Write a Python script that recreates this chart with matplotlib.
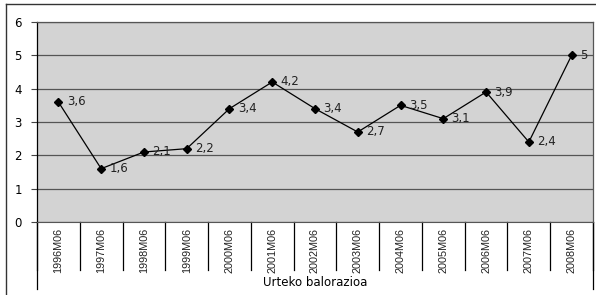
import numpy as np
import matplotlib.pyplot as plt
from matplotlib.lines import Line2D

years = ["1996M06", "1997M06", "1998M06", "1999M06", "2000M06", "2001M06", "2002M06",
         "2003M06", "2004M06", "2005M06", "2006M06", "2007M06", "2008M06"]
values = [3.6, 1.6, 2.1, 2.2, 3.4, 4.2, 3.4, 2.7, 3.5, 3.1, 3.9, 2.4, 5.0]
xlabel = "Urteko balorazioa"

W, H = 596, 295
fig = plt.figure(figsize=(W / 100, H / 100), dpi=100)

# plot area in pixels
left, top, right, bottom = 37, 22, 593, 222
ax = fig.add_axes([left / W, 1 - bottom / H, (right - left) / W, (bottom - top) / H])
ax.set_facecolor("#d3d3d3")

n = len(years)
x = np.arange(n)
ax.plot(x, values, color="black", lw=0.9, marker="D", ms=4.3, zorder=3)
for xi, v in zip(x, values):
    lab = ("%g" % v).replace(".", ",")
    ax.annotate(lab, (xi, v), xytext=(6, 0), textcoords="offset points",
                va="center", ha="left", fontsize=8.5, family="DejaVu Sans", color="#222222")

ax.set_xlim(-0.5, n - 0.5)
ax.set_ylim(0, 6)
ax.set_yticks(range(7))
ax.set_yticklabels([str(i) for i in range(7)], fontsize=8.5, family="DejaVu Sans")
ax.tick_params(axis="y", length=4, width=0.8, color="#444444", pad=7)
ax.yaxis.grid(True, color="#555555", lw=0.9)
ax.set_axisbelow(True)
ax.set_xticks([])
for s in ["top", "right"]:
    ax.spines[s].set_color("#555555")
    ax.spines[s].set_linewidth(0.9)
ax.spines["left"].set_color("black")
ax.spines["bottom"].set_color("#555555")
ax.spines["left"].set_linewidth(0.9)

# category axis drawn as a small table below the plot
ph = bottom - top
trans = ax.get_xaxis_transform()
for k in range(n + 1):
    ax.add_line(Line2D([k - 0.5, k - 0.5], [0, -48 / ph], transform=trans,
                       color="black", lw=0.9, clip_on=False))
for k in [0, n]:
    ax.add_line(Line2D([k - 0.5, k - 0.5], [0, -67 / ph], transform=trans,
                       color="black", lw=0.9, clip_on=False))
for k, yr in enumerate(years):
    ax.text(k, -6 / ph, yr, transform=trans, rotation=90, ha="center", va="top",
            fontsize=7.8, family="Liberation Sans", color="#222222")
ax.text(0.5, -60 / ph, xlabel, transform=ax.transAxes, ha="center", va="center",
        fontsize=8.5, family="DejaVu Sans")

# outer frame (top and left edges visible)
fig.add_artist(Line2D([6 / W, 6 / W], [0, 1 - 4 / H], transform=fig.transFigure,
                      color="#333333", lw=1.0))
fig.add_artist(Line2D([6 / W, 1], [1 - 4 / H, 1 - 4 / H], transform=fig.transFigure,
                      color="#333333", lw=1.0))

fig.savefig("out.png", dpi=100)
